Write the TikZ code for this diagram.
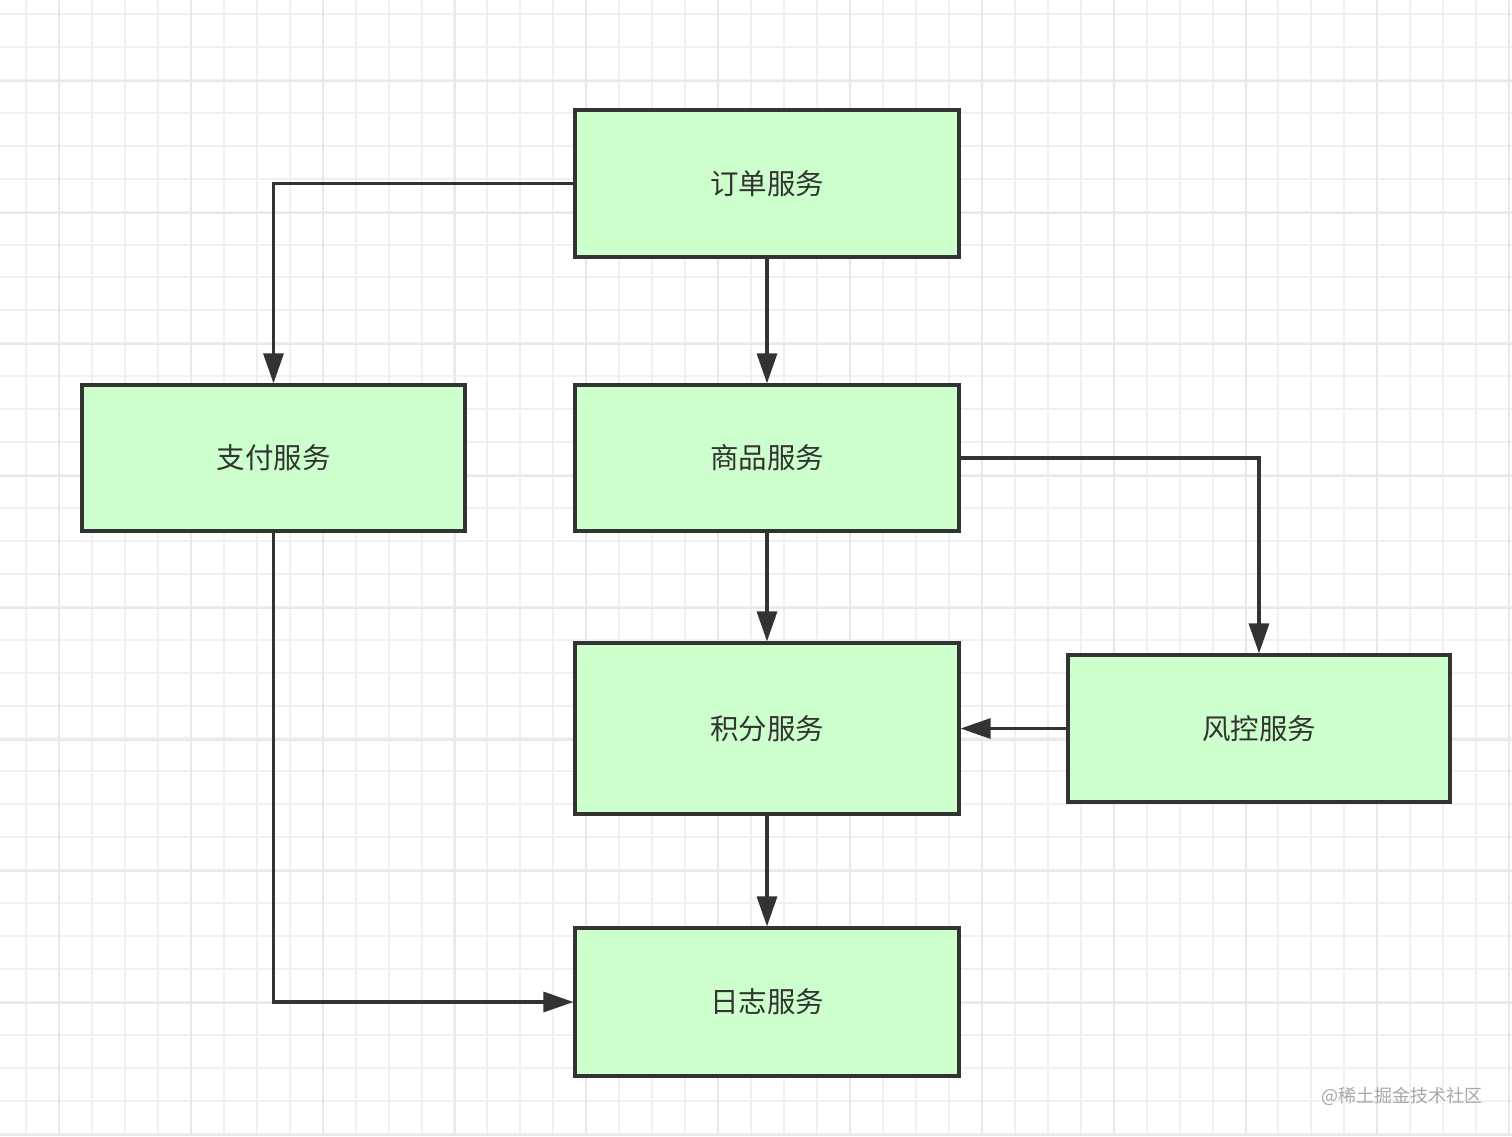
\documentclass[tikz,border=0pt]{standalone}
\usepackage{fontspec}
\setmainfont{Noto Sans CJK SC}
\usetikzlibrary{arrows.meta}
\definecolor{boxfill}{HTML}{CCFFCC}
\definecolor{ink}{HTML}{333333}
\definecolor{gridminor}{HTML}{F0F0F0}
\definecolor{gridmajor}{HTML}{E8E8E8}
\definecolor{wm}{HTML}{A8A8A8}
\tikzset{
  svc/.style={draw=ink, fill=boxfill, line width=3.2pt, rectangle, inner sep=0pt,
    text=ink, font=\fontsize{28.5}{34}\selectfont},
  conn/.style={draw=ink, line width=3.2pt, -{Triangle[length=30pt,width=20pt]}},
}
\begin{document}
\begin{tikzpicture}[x=1pt,y=-1pt]
\useasboundingbox (0,0) rectangle (1512,1136);
\fill[white] (0,0) rectangle (1512,1136);
% grid
\foreach \i in {0,...,45} {
  \pgfmathsetmacro{\gx}{26+32.96*\i}
  \draw[gridminor, line width=2pt] (\gx,0) -- (\gx,1136);
}
\foreach \j in {0,...,34} {
  \pgfmathsetmacro{\gy}{14+32.93*\j}
  \draw[gridminor, line width=2pt] (0,\gy) -- (1512,\gy);
}
\foreach \i in {0,...,11} {
  \pgfmathsetmacro{\gx}{59+131.84*\i}
  \draw[gridmajor, line width=2pt] (\gx,0) -- (\gx,1136);
}
\foreach \j in {0,...,8} {
  \pgfmathsetmacro{\gy}{80.9+131.72*\j}
  \draw[gridmajor, line width=2pt] (0,\gy) -- (1512,\gy);
}
% nodes
\node[svc, minimum width=384pt, minimum height=147pt] (order) at (767,183.5) {订单服务};
\node[svc, minimum width=383pt, minimum height=146pt] (pay) at (273.5,458) {支付服务};
\node[svc, minimum width=384pt, minimum height=146pt] (goods) at (767,458) {商品服务};
\node[svc, minimum width=384pt, minimum height=171pt] (points) at (767,728.5) {积分服务};
\node[svc, minimum width=382pt, minimum height=147pt] (risk) at (1259,728.5) {风控服务};
\node[svc, minimum width=384pt, minimum height=148pt] (log) at (767,1002) {日志服务};
% connectors
\draw[conn] (order.west) -| (pay.north);
\draw[conn] (order.south) -- (goods.north);
\draw[conn] (goods.east) -| (risk.north);
\draw[conn] (goods.south) -- (points.north);
\draw[conn] (risk.west) -- (points.east);
\draw[conn] (points.south) -- (log.north);
\draw[conn] (pay.south) |- (log.west);
% watermark
\node[text=wm, font=\fontsize{18}{20}\selectfont, inner sep=0pt] (wmk) at (1402,1096) {@稀土掘金技术社区};
\end{tikzpicture}
\end{document}
